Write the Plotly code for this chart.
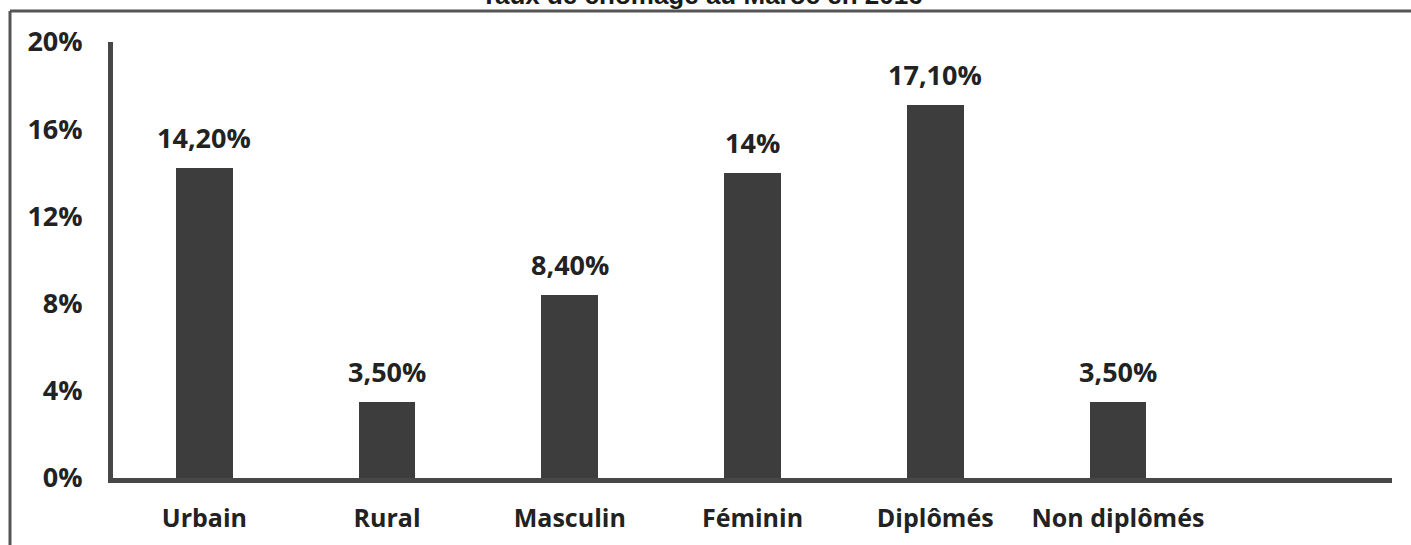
import plotly.graph_objects as go

categories = ["Urbain", "Rural", "Masculin", "Féminin", "Diplômés", "Non diplômés"]
values = [14.2, 3.5, 8.4, 14.0, 17.1, 3.5]
value_labels = ["14,20%", "3,50%", "8,40%", "14%", "17,10%", "3,50%"]
y_ticks = [0, 4, 8, 12, 16, 20]
y_tick_labels = ["0%", "4%", "8%", "12%", "16%", "20%"]
title_text = "Taux de chômage au Maroc en 2016"

W, H = 1411, 545
ML, MR, MT, MB = 113, 19, 42, 67
PW, PH = W - ML - MR, H - MT - MB

def px_x(p):
    return (p - ML) / PW

def px_y(p):
    return 1 - (p - MT) / PH

x_pos = list(range(len(categories)))

fig = go.Figure()
fig.add_trace(go.Bar(
    x=x_pos, y=values, width=0.31,
    marker=dict(color="#3d3d3d", line=dict(width=0)),
    hoverinfo="skip", showlegend=False,
))

for xi, v, lab in zip(x_pos, values, value_labels):
    fig.add_annotation(
        x=xi, y=v, xref="x", yref="y", text=lab, showarrow=False,
        yanchor="bottom", yshift=10,
        font=dict(family="Open Sans", size=27, color="#222222", weight="bold"),
    )

fig.add_annotation(
    x=px_x(702), y=1, xref="paper", yref="paper", text=title_text,
    showarrow=False, yanchor="bottom", yshift=30,
    font=dict(family="Liberation Sans", size=26, color="#1a1a1a", weight="bold"),
)

# outer frame (left and top edges visible)
fx = px_x(10)
fy = px_y(11)
fig.add_shape(type="line", xref="paper", yref="paper", x0=fx, x1=fx, y0=fy, y1=-0.3,
              line=dict(color="#555555", width=3))
fig.add_shape(type="line", xref="paper", yref="paper", x0=fx, x1=1.2, y0=fy, y1=fy,
              line=dict(color="#555555", width=3))

fig.update_layout(
    width=W, height=H,
    margin=dict(l=ML, r=MR, t=MT, b=MB),
    paper_bgcolor="white", plot_bgcolor="white",
    bargap=0,
    xaxis=dict(
        range=[-0.5, 6.5], tickmode="array", tickvals=x_pos, ticktext=categories,
        showgrid=False, zeroline=False, showline=True, linecolor="#474747", linewidth=5,
        ticks="", ticklabelstandoff=14, automargin=False,
        tickfont=dict(family="Open Sans", size=25, color="#222222", weight="bold"),
    ),
    yaxis=dict(
        range=[0, 20], tickmode="array", tickvals=y_ticks, ticktext=y_tick_labels,
        showgrid=False, zeroline=False, showline=True, linecolor="#474747", linewidth=5,
        ticks="", ticklabelstandoff=20, automargin=False,
        tickfont=dict(family="Open Sans", size=27, color="#222222", weight="bold"),
    ),
)

fig.write_html("out.html", config={"displayModeBar": False},
               post_script="document.body.style.margin='0';")
